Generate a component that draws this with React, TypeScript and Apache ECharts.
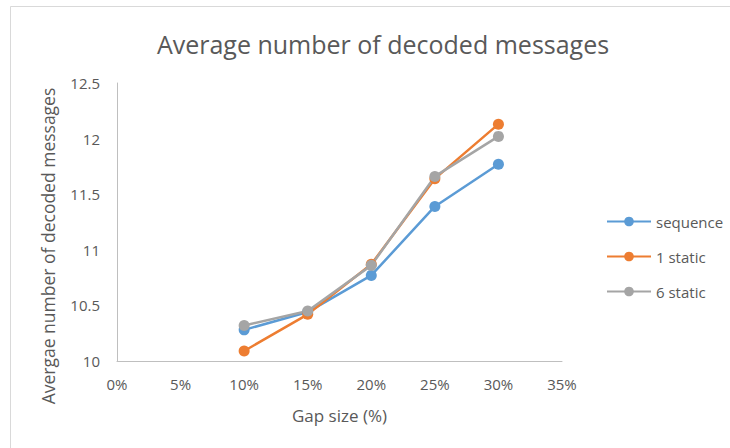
import React, { useEffect, useRef } from "react";
import * as echarts from "echarts";

const gapSizes = [10, 15, 20, 25, 30];
const sequence = [10.28, 10.44, 10.77, 11.39, 11.77];
const oneStatic = [10.09, 10.42, 10.87, 11.64, 12.13];
const sixStatic = [10.32, 10.45, 10.86, 11.66, 12.02];
const seriesNames = ["sequence", "1 static", "6 static"];
const colors = ["#5B9BD5", "#ED7D31", "#A5A5A5"];
const yAxisTitle = "Avergae number of decoded messages";

const FONT = "'Open Sans', 'Liberation Sans', sans-serif";

export default function App() {
  const ref = useRef<HTMLDivElement>(null);
  useEffect(() => {
    if (!ref.current) return;
    const chart = echarts.init(ref.current, null, { renderer: "svg" });
    const all = [sequence, oneStatic, sixStatic];
    chart.setOption({
      animation: false,
      backgroundColor: "#ffffff",
      title: {
        text: "Average number of decoded messages",
        left: 378,
        textAlign: "center",
        top: 26,
        textStyle: { fontFamily: FONT, fontSize: 25, fontWeight: "normal", color: "#595959" },
      },
      graphic: [
        {
          type: "rect",
          shape: { x: 10.5, y: 6.5, width: 740, height: 460 },
          style: { fill: "none", stroke: "#D9D9D9", lineWidth: 1 },
        },
        {
          type: "text",
          x: 48,
          y: 246,
          rotation: Math.PI / 2,
          style: {
            text: yAxisTitle,
            fontFamily: FONT,
            fontSize: 17.5,
            fill: "#595959",
            textAlign: "center",
            textVerticalAlign: "middle",
          },
        },
      ],
      grid: { left: 117, top: 83, right: 168, bottom: 87 },
      legend: {
        orient: "vertical",
        left: 601,
        top: 209,
        itemGap: 20,
        itemWidth: 44,
        itemHeight: 12,
        data: seriesNames,
        textStyle: { fontFamily: FONT, fontSize: 15, color: "#595959" },
      },
      xAxis: {
        type: "value",
        min: 0,
        max: 35,
        interval: 5,
        name: "Gap size (%)",
        nameLocation: "middle",
        nameGap: 46,
        nameTextStyle: { fontFamily: FONT, fontSize: 17, color: "#595959" },
        axisLine: { show: true, lineStyle: { color: "#BFBFBF", width: 1 } },
        axisTick: { show: false },
        splitLine: { show: false },
        axisLabel: {
          formatter: "{value}%",
          margin: 15,
          fontFamily: FONT,
          fontSize: 15,
          color: "#595959",
        },
      },
      yAxis: {
        type: "value",
        min: 10,
        max: 12.5,
        interval: 0.5,
        axisLine: { show: true, lineStyle: { color: "#BFBFBF", width: 1 } },
        axisTick: { show: false },
        splitLine: { show: false },
        axisLabel: {
          margin: 17,
          fontFamily: FONT,
          fontSize: 15,
          color: "#595959",
        },
      },
      series: seriesNames.map((name, i) => ({
        name,
        type: "line",
        data: gapSizes.map((x, j) => [x, all[i][j]]),
        symbol: "circle",
        symbolSize: 11,
        color: colors[i],
        lineStyle: { width: 2.5, color: colors[i] },
        itemStyle: { color: colors[i] },
      })),
    });
    return () => chart.dispose();
  }, []);
  return (
    <div
      ref={ref}
      style={{ position: "absolute", left: 0, top: 0, width: 730, height: 448 }}
    />
  );
}
